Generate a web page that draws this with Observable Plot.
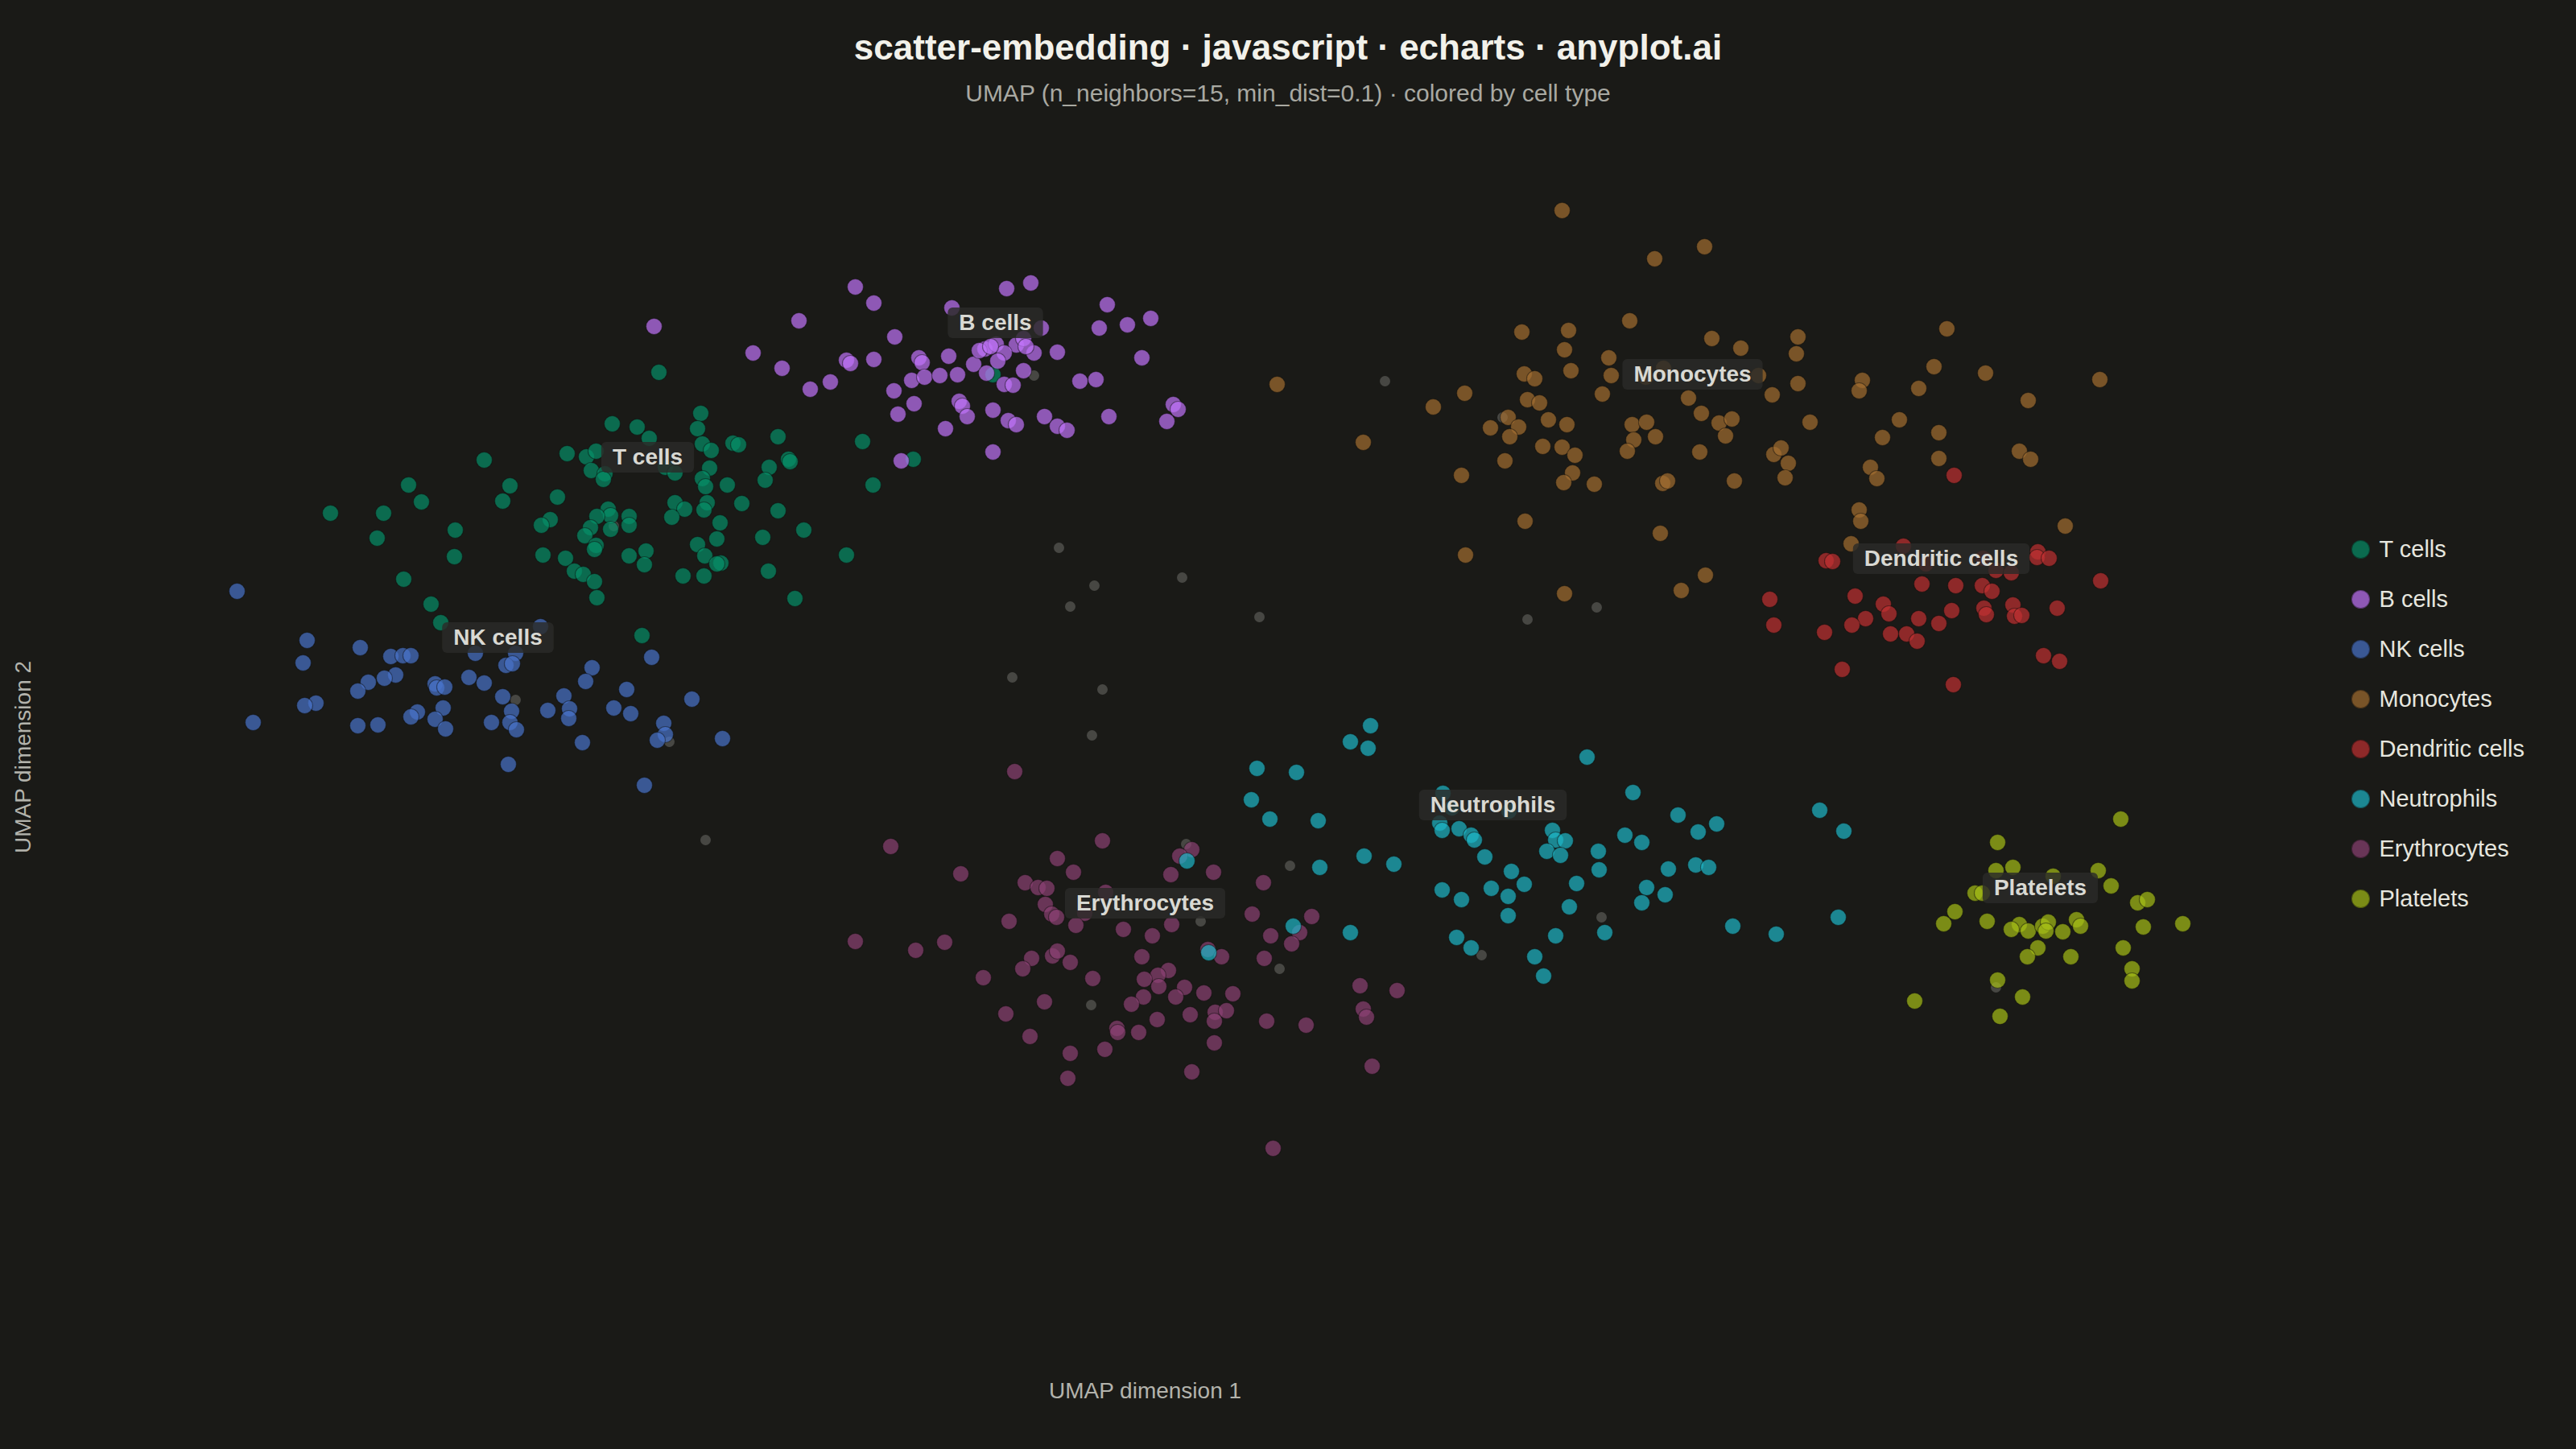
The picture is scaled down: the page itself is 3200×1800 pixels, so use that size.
<!DOCTYPE html>
<html>
<head>
<meta charset="utf-8">
<script src="https://cdn.jsdelivr.net/npm/d3@7"></script>
<script src="https://cdn.jsdelivr.net/npm/@observablehq/plot@0.6"></script>
<style>
html,body{margin:0;padding:0;background:#1a1a17;}
body{width:3200px;height:1800px;position:relative;overflow:hidden;font-family:"Liberation Sans",Arial,sans-serif;}
#title{position:absolute;left:0;width:3200px;top:37px;text-align:center;font-size:44px;line-height:44px;font-weight:bold;color:#f2f1ea;}
#subtitle{position:absolute;left:0;width:3200px;top:101px;text-align:center;font-size:30px;line-height:30px;color:#a9a9a2;}
#chart{position:absolute;left:0;top:200px;width:3200px;height:1600px;}
#legend{position:absolute;left:2921px;top:651px;}
.item{display:flex;align-items:center;height:62.14px;}
.sw{width:21px;height:21px;border-radius:50%;margin-right:11.5px;border:1px solid rgba(0,0,0,0.35);box-sizing:content-box;}
.lt{font-size:29px;line-height:29px;color:#e6e6df;}
</style>
</head>
<body>
<div id="title">scatter-embedding · javascript · echarts · anyplot.ai</div>
<div id="subtitle">UMAP (n_neighbors=15, min_dist=0.1) · colored by cell type</div>
<div id="chart"></div>
<div id="legend"></div>
<script>
const categories = ["T cells","B cells","NK cells","Monocytes","Dendritic cells","Neutrophils","Erythrocytes","Platelets"];
const colors = ["#058e68","#c173f9","#4973cb","#a36d31","#c03132","#1eb6c7","#8c4174","#a5bd17"];

const tCells = [[8.70,12.87],[7.60,12.74],[7.91,12.70],[8.66,12.68],[8.06,12.56],[9.66,12.58],[8.72,12.49],[9.10,12.50],[9.17,12.48],[7.04,12.37],[7.28,12.33],[7.40,12.40],[8.83,12.41],[9.79,12.30],[9.81,12.27],[6.01,12.29],[7.34,12.16],[7.51,12.12],[7.49,12.05],[8.81,12.19],[9.55,12.20],[8.26,12.20],[8.38,12.13],[8.72,12.06],[8.76,11.96],[9.03,11.98],[9.50,12.04],[5.07,11.98],[6.33,11.97],[5.23,11.77],[6.24,11.78],[6.92,11.83],[8.38,11.76],[8.50,11.68],[8.78,11.76],[8.74,11.67],[9.21,11.75],[9.66,11.66],[4.10,11.63],[4.76,11.63],[7.55,11.68],[7.58,11.60],[7.41,11.59],[7.81,11.59],[8.34,11.58],[6.83,11.55],[6.72,11.48],[8.94,11.51],[7.81,11.48],[7.58,11.43],[7.33,11.45],[7.26,11.35],[5.65,11.42],[9.98,11.42],[9.47,11.33],[4.68,11.32],[8.90,11.31],[8.66,11.24],[7.40,11.23],[7.38,11.18],[5.64,11.09],[6.74,11.11],[7.02,11.07],[7.81,11.10],[8.02,11.16],[8.00,10.99],[8.75,11.10],[8.95,11.01],[8.90,11.00],[10.51,11.11],[7.13,10.91],[7.24,10.87],[7.38,10.78],[8.48,10.85],[8.74,10.85],[9.54,10.91],[5.01,10.81],[7.41,10.58],[9.87,10.57],[5.35,10.50],[5.47,10.27],[7.97,10.11],[8.18,13.38],[10.71,12.52],[10.84,11.98],[11.34,12.30],[12.33,13.35]];

const bCells = [[8.12,13.95],[10.62,14.44],[10.85,14.24],[9.92,14.02],[11.82,14.18],[12.50,14.42],[12.80,14.49],[12.93,13.93],[13.75,14.22],[13.65,13.93],[14.00,13.97],[14.29,14.05],[11.11,13.82],[9.35,13.62],[9.71,13.43],[10.51,13.53],[10.56,13.49],[10.85,13.54],[11.41,13.56],[11.45,13.50],[11.78,13.58],[12.23,13.67],[12.37,13.73],[12.62,13.72],[12.71,13.80],[12.47,13.62],[12.84,13.62],[13.13,13.63],[14.18,13.56],[12.09,13.48],[12.39,13.52],[12.25,13.37],[12.71,13.40],[10.31,13.26],[10.06,13.17],[11.32,13.28],[11.48,13.32],[11.67,13.34],[11.89,13.35],[12.47,13.23],[12.58,13.22],[13.41,13.27],[13.61,13.29],[11.10,13.15],[11.35,12.99],[11.15,12.86],[11.91,13.02],[11.95,12.96],[12.01,12.83],[12.33,12.91],[11.74,12.68],[12.52,12.78],[12.62,12.73],[12.97,12.83],[13.13,12.71],[13.25,12.66],[13.77,12.83],[14.57,12.98],[14.63,12.92],[14.49,12.77],[12.33,12.39],[11.19,12.28],[12.16,13.65],[12.30,13.70],[12.74,13.70]];

const nkCells = [[2.94,10.66],[6.71,10.22],[3.81,10.05],[4.47,9.96],[3.76,9.77],[4.85,9.85],[5.00,9.86],[5.10,9.86],[5.90,9.89],[6.40,9.89],[6.28,9.74],[6.36,9.76],[7.35,9.71],[8.09,9.84],[4.91,9.62],[4.77,9.58],[4.57,9.53],[4.44,9.42],[5.40,9.51],[5.42,9.46],[5.52,9.47],[5.82,9.59],[6.01,9.52],[7.27,9.54],[6.24,9.35],[7.00,9.36],[7.78,9.44],[8.59,9.32],[3.92,9.27],[3.78,9.24],[3.14,9.03],[5.18,9.16],[5.10,9.10],[5.50,9.21],[5.40,9.07],[5.53,8.95],[4.44,8.99],[4.69,9.00],[6.35,9.17],[6.10,9.03],[6.33,9.03],[6.41,8.94],[6.80,9.18],[7.07,9.20],[7.06,9.08],[7.62,9.21],[7.83,9.14],[8.24,9.02],[8.26,8.88],[8.16,8.81],[8.97,8.83],[7.23,8.78],[6.31,8.51],[8.00,8.25]];

const monocytes = [[19.40,15.39],[21.17,14.94],[20.55,14.79],[20.24,14.02],[18.90,13.88],[19.48,13.90],[21.26,13.80],[21.62,13.68],[19.43,13.66],[19.98,13.56],[18.93,13.36],[19.06,13.30],[19.51,13.40],[20.01,13.34],[20.66,13.43],[20.44,13.32],[21.84,13.34],[15.86,13.23],[18.19,13.12],[17.80,12.95],[19.90,13.11],[20.97,13.06],[22.01,13.10],[18.97,13.04],[19.12,13.00],[18.73,12.82],[18.86,12.70],[18.51,12.69],[19.23,12.79],[19.46,12.73],[21.13,12.87],[21.35,12.75],[21.51,12.80],[20.27,12.73],[20.45,12.76],[20.56,12.58],[20.29,12.54],[21.43,12.59],[16.93,12.51],[18.75,12.58],[19.16,12.46],[19.40,12.45],[19.56,12.35],[20.21,12.40],[21.11,12.39],[22.03,12.36],[18.69,12.28],[18.15,12.10],[19.53,12.13],[19.42,12.01],[19.80,11.99],[20.65,12.00],[20.71,12.03],[21.54,12.03],[18.94,11.53],[20.62,11.38],[18.20,11.11],[21.18,10.86],[20.88,10.67],[19.43,10.63],[22.33,13.82],[22.31,13.61],[24.18,13.92],[22.33,13.24],[23.13,13.28],[23.09,13.15],[23.83,13.18],[24.02,13.45],[24.66,13.37],[25.19,13.03],[26.08,13.29],[22.48,12.76],[23.59,12.79],[23.38,12.57],[24.08,12.63],[22.12,12.44],[22.21,12.25],[22.17,12.07],[23.23,12.20],[23.31,12.06],[24.08,12.31],[25.08,12.40],[25.22,12.30],[23.09,11.67],[23.11,11.53],[25.65,11.47],[22.99,11.25]];

const dendritic = [[24.27,12.10],[23.64,11.22],[22.68,11.04],[22.76,11.03],[25.31,11.15],[25.30,11.08],[25.45,11.07],[24.63,11.07],[23.92,11.00],[24.79,10.92],[24.98,10.89],[26.09,10.79],[21.98,10.56],[23.04,10.60],[23.87,10.75],[24.29,10.73],[24.62,10.73],[24.74,10.66],[23.39,10.50],[23.46,10.38],[23.17,10.32],[23.00,10.24],[23.83,10.32],[24.24,10.42],[24.64,10.45],[24.67,10.37],[25.00,10.49],[25.02,10.35],[25.11,10.36],[25.55,10.45],[22.03,10.24],[22.66,10.15],[23.48,10.13],[23.68,10.13],[23.81,10.04],[24.08,10.26],[25.38,9.86],[25.58,9.79],[22.88,9.69],[24.26,9.50]];

const neutrophils = [[17.02,8.99],[16.77,8.79],[16.99,8.71],[15.61,8.46],[16.10,8.41],[19.71,8.60],[15.54,8.07],[15.77,7.83],[16.37,7.81],[17.92,8.15],[18.03,7.97],[18.74,7.93],[20.28,8.16],[20.84,7.88],[21.32,7.77],[21.09,7.67],[17.88,7.78],[17.91,7.69],[18.12,7.71],[18.27,7.63],[18.31,7.57],[19.28,7.69],[19.32,7.57],[19.44,7.56],[19.21,7.43],[19.38,7.38],[20.18,7.63],[20.39,7.54],[18.44,7.36],[19.85,7.43],[16.94,7.37],[17.31,7.27],[16.39,7.23],[18.77,7.18],[19.86,7.20],[20.72,7.21],[21.06,7.26],[21.22,7.23],[17.91,6.95],[18.15,6.83],[18.52,6.97],[18.93,7.02],[18.73,6.87],[19.58,7.03],[20.45,6.98],[20.68,6.89],[20.39,6.79],[19.49,6.74],[18.73,6.63],[16.06,6.50],[16.77,6.42],[21.52,6.50],[22.06,6.40],[19.32,6.38],[19.93,6.42],[18.09,6.36],[18.27,6.23],[19.06,6.12],[19.17,5.88],[15.01,6.17],[14.74,7.31],[22.60,7.94],[22.90,7.68],[22.83,6.61]];

const erythrocytes = [[12.60,8.42],[11.06,7.49],[13.69,7.56],[13.13,7.34],[11.93,7.15],[13.33,7.17],[14.80,7.45],[14.65,7.37],[14.54,7.14],[15.07,7.17],[15.69,7.04],[12.73,7.04],[12.89,6.98],[13.00,6.97],[13.73,6.92],[12.98,6.77],[13.06,6.65],[13.12,6.61],[13.47,6.66],[12.53,6.56],[13.36,6.51],[13.95,6.46],[14.55,6.52],[14.31,6.38],[15.55,6.65],[16.29,6.62],[16.14,6.42],[15.78,6.38],[16.04,6.28],[10.62,6.31],[11.37,6.20],[11.73,6.30],[12.81,6.10],[12.70,5.97],[13.07,6.13],[13.13,6.19],[13.29,6.05],[12.21,5.86],[13.57,5.85],[14.18,6.12],[15.00,6.21],[15.17,6.12],[15.70,6.10],[14.51,5.95],[14.38,5.89],[14.21,5.84],[14.39,5.75],[14.71,5.74],[14.95,5.67],[15.31,5.66],[14.60,5.62],[14.20,5.62],[14.05,5.53],[12.97,5.56],[12.49,5.41],[14.78,5.40],[15.09,5.43],[15.23,5.45],[15.08,5.32],[14.37,5.34],[13.87,5.23],[13.88,5.18],[14.14,5.18],[12.79,5.13],[15.73,5.32],[16.22,5.27],[16.89,5.76],[17.35,5.70],[16.93,5.47],[16.97,5.37],[13.72,4.97],[13.29,4.92],[15.08,5.05],[14.80,4.69],[13.26,4.61],[17.04,4.76],[15.81,3.74]];

const platelets = [[26.34,7.83],[24.81,7.54],[24.79,7.19],[25.00,7.23],[25.50,7.12],[26.06,7.19],[26.22,7.00],[24.53,6.91],[24.62,6.91],[26.55,6.79],[26.67,6.83],[24.28,6.68],[24.14,6.53],[24.68,6.56],[25.08,6.52],[24.98,6.46],[25.19,6.44],[25.37,6.50],[25.44,6.55],[25.41,6.44],[25.62,6.43],[25.79,6.58],[25.84,6.50],[26.62,6.49],[27.11,6.53],[25.31,6.23],[25.18,6.12],[25.72,6.12],[26.37,6.23],[26.48,5.97],[26.48,5.82],[24.81,5.83],[25.12,5.62],[23.78,5.57],[24.84,5.38]];

const unassigned = [[6.40,9.31],[8.31,8.79],[8.76,7.57],[12.84,13.34],[13.15,11.20],[13.59,10.73],[13.29,10.47],[14.68,10.83],[15.64,10.34],[12.57,9.59],[13.69,9.44],[13.56,8.87],[17.20,13.27],[18.66,12.82],[18.97,10.31],[19.83,10.46],[16.02,7.25],[15.89,5.97],[18.40,6.14],[19.89,6.61],[14.73,7.52],[14.91,6.56],[13.55,5.52],[24.79,5.74],[7.62,11.47]];

// label anchors (cluster annotation positions) in UMAP units
const labelX = [8.04, 12.36, 6.18, 21.02, 24.11, 18.54, 14.22, 25.34];
const labelY = [12.32, 13.99, 10.08, 13.35, 11.06, 8.00, 6.78, 6.97];

const seriesByType = {
  "T cells": tCells, "B cells": bCells, "NK cells": nkCells, "Monocytes": monocytes,
  "Dendritic cells": dendritic, "Neutrophils": neutrophils, "Erythrocytes": erythrocytes, "Platelets": platelets
};
const drawOrder = ["T cells","B cells","NK cells","Monocytes","Dendritic cells","Erythrocytes","Neutrophils","Platelets"];

const points = [];
drawOrder.forEach(type => seriesByType[type].forEach(([x, y]) => points.push({x, y, type})));
const noise = unassigned.map(([x, y]) => ({x, y}));
const labels = categories.map((name, i) => ({name, x: labelX[i], y: labelY[i]}));

const chart = Plot.plot({
  width: 3200,
  height: 1600,
  marginLeft: 60,
  marginRight: 400,
  marginTop: 0,
  marginBottom: 120,
  x: {domain: [0.6, 28.0], axis: null},
  y: {domain: [1.2, 16.0], axis: null},
  color: {domain: categories, range: colors},
  style: {background: "transparent", fontFamily: "'Liberation Sans', Arial, sans-serif", maxWidth: "none", overflow: "visible"},
  marks: [
    Plot.dot(noise, {x: "x", y: "y", r: 6.5, fill: "#8c8c88", fillOpacity: 0.4}),
    Plot.dot(points, {x: "x", y: "y", fill: "type", r: 10, fillOpacity: 0.7, stroke: "#0d0d0b", strokeOpacity: 0.45, strokeWidth: 1.2}),
    Plot.text(["UMAP dimension 1"], {text: d => d, frameAnchor: "bottom", lineAnchor: "middle", textAnchor: "middle", dy: 48, dx: -8, fontSize: 28, fill: "#b3b3ac"}),
    Plot.text(["UMAP dimension 2"], {text: d => d, frameAnchor: "left", lineAnchor: "middle", textAnchor: "middle", dx: -31, rotate: -90, fontSize: 28, fill: "#b3b3ac"}),
    Plot.text(labels, {x: "x", y: "y", text: "name", fontSize: 28, fontWeight: "bold", fill: "#d9d9d3"})
  ]
});
document.getElementById("chart").appendChild(chart);

// rounded label backgrounds behind cluster annotations
const ns = "http://www.w3.org/2000/svg";
const svgBox = chart.getBoundingClientRect();
const labelTexts = Array.from(chart.querySelectorAll("text")).filter(t => categories.includes(t.textContent));
if (labelTexts.length) {
  const g = labelTexts[0].parentNode;
  const bg = document.createElementNS(ns, "g");
  g.parentNode.insertBefore(bg, g);
  labelTexts.forEach(t => {
    const b = t.getBoundingClientRect();
    const r = document.createElementNS(ns, "rect");
    r.setAttribute("x", b.left - svgBox.left - 14);
    r.setAttribute("y", b.top - svgBox.top - 3.5);
    r.setAttribute("width", b.width + 28);
    r.setAttribute("height", b.height + 7);
    r.setAttribute("rx", 6);
    r.setAttribute("fill", "#2b2b28");
    r.setAttribute("fill-opacity", 0.82);
    bg.appendChild(r);
  });
}

// legend
const legend = document.getElementById("legend");
categories.forEach((c, i) => {
  const item = document.createElement("div");
  item.className = "item";
  const sw = document.createElement("div");
  sw.className = "sw";
  sw.style.background = d3.color(colors[i]).copy({opacity: 0.7}).formatRgb();
  const lt = document.createElement("div");
  lt.className = "lt";
  lt.textContent = c;
  item.appendChild(sw);
  item.appendChild(lt);
  legend.appendChild(item);
});
</script>
</body>
</html>
